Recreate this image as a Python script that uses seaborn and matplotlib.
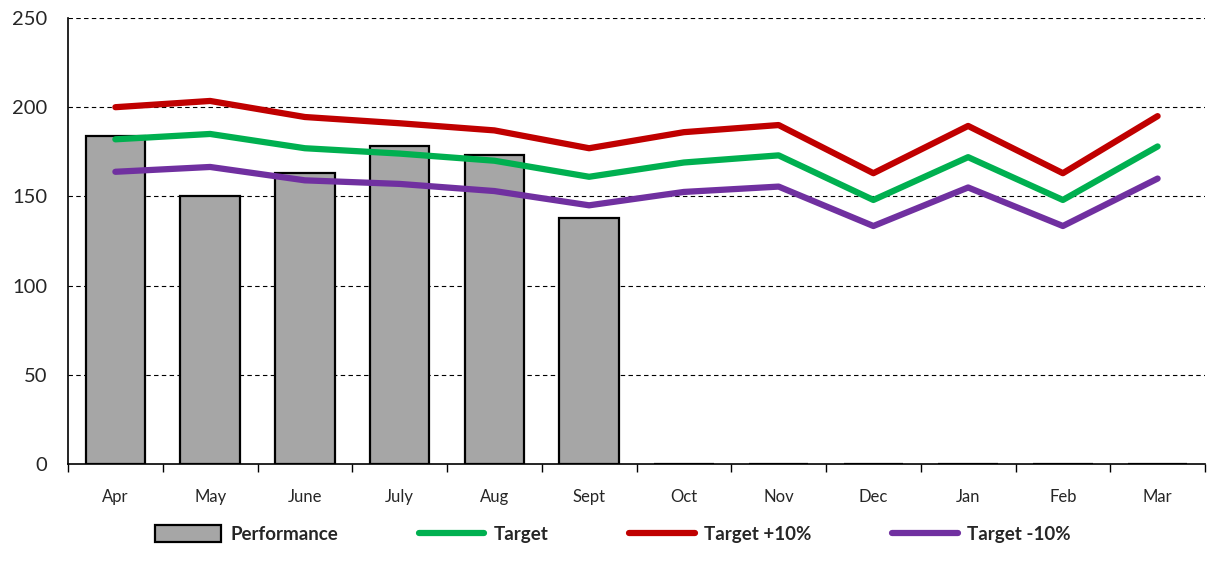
import numpy as np
import matplotlib
matplotlib.use("Agg")
import matplotlib.pyplot as plt
import pandas as pd
import seaborn as sns

# monthly values
months = ["Apr", "May", "June", "July", "Aug", "Sept", "Oct", "Nov", "Dec", "Jan", "Feb", "Mar"]
performance = [184, 150, 163, 178, 173, 138, 0, 0, 0, 0, 0, 0]
target = [182, 185, 177, 174, 170, 161, 169, 173, 148, 172, 148, 178]
target_plus = [200, 203.5, 194.5, 191, 187, 177, 186, 190, 163, 189.5, 163, 195]
target_minus = [163.8, 166.5, 159, 157, 153, 145, 152.5, 155.5, 133.4, 155, 133.4, 160]
yticks = [0, 50, 100, 150, 200, 250]

sns.set_style("white")
plt.rcParams['font.family'] = ['Lato', 'DejaVu Sans']

df = pd.DataFrame({"month": months, "pos": np.arange(len(months)),
                   "Performance": performance, "Target": target,
                   "Target +10%": target_plus, "Target -10%": target_minus})

fig = plt.figure(figsize=(12.16, 5.61), dpi=100)
ax = fig.add_axes([68/1216, 1-464/561, (1205-68)/1216, (464-18)/561])

sns.barplot(data=df, x="month", y="Performance", order=months, color="#A6A6A6",
            edgecolor="black", linewidth=1.6, width=0.63, saturation=1,
            label="Performance", ax=ax, zorder=2, legend=False)

line_colors = {"Target": "#00B050", "Target +10%": "#C00000", "Target -10%": "#7030A0"}
for name, col in line_colors.items():
    sns.lineplot(data=df, x="pos", y=name, color=col, linewidth=4.5, label=name,
                 ax=ax, zorder=3, legend=False)

ax.set_xlim(-0.5, len(months) - 0.5)
ax.set_ylim(0, 250)
ax.set_yticks(yticks)
ax.set_yticklabels([str(v) for v in yticks], fontsize=14.5)
ax.set_xticks(np.arange(len(months)))
ax.set_xticklabels(months, fontsize=12)
ax.set_xlabel("")
ax.set_ylabel("")

# dashed gridlines
for v in yticks[1:]:
    ax.axhline(v, color="black", linestyle=(0, (4, 3)), linewidth=0.8, zorder=1)

for s in ["top", "right"]:
    ax.spines[s].set_visible(False)
ax.spines["left"].set_color("black")
ax.spines["bottom"].set_color("black")
ax.spines["left"].set_linewidth(1.2)
ax.spines["bottom"].set_linewidth(1.2)

# tick marks: y outward left, x ticks between categories
ax.tick_params(axis="y", which="major", direction="out", length=7, width=1, color="black", pad=8)
ax.tick_params(axis="x", which="major", length=0, pad=18)
ax.set_xticks(np.arange(len(months) + 1) - 0.5, minor=True)
ax.tick_params(axis="x", which="minor", direction="out", length=6, width=1, color="black",
               bottom=True)

handles, labels = ax.get_legend_handles_labels()
order = ["Performance", "Target", "Target +10%", "Target -10%"]
hmap = dict(zip(labels, handles))
leg = fig.legend([hmap[k] for k in order], order, loc="center",
                 bbox_to_anchor=(613/1216, 1-534/561), ncol=4, frameon=False,
                 prop={"weight": "bold", "size": 13.5}, handlelength=3.5,
                 handleheight=1.0, handletextpad=0.5, columnspacing=4.3)

fig.savefig("out.png", dpi=100)
